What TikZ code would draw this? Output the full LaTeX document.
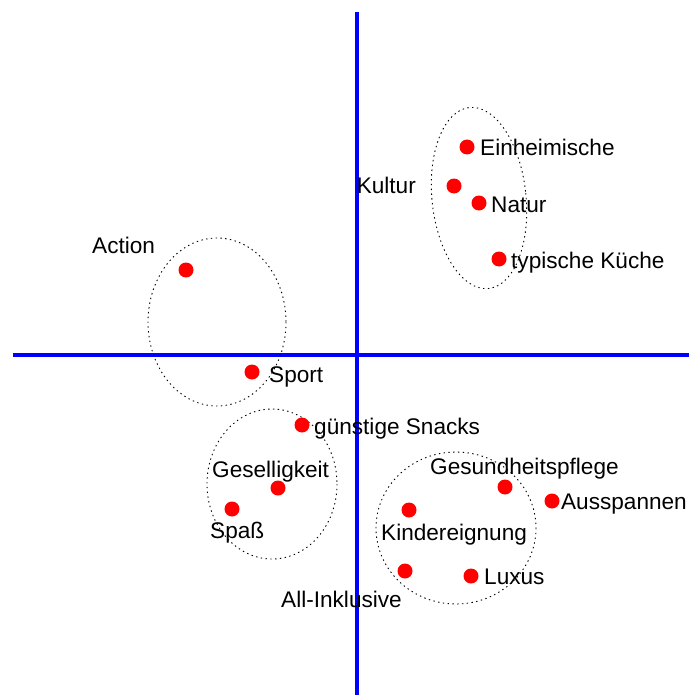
\documentclass[tikz,border=0pt]{standalone}
\usepackage{fontspec}
\setmainfont{Liberation Sans}
\usetikzlibrary{positioning}
\definecolor{axisblue}{RGB}{0,0,255}
\definecolor{dotred}{RGB}{255,0,0}

\begin{document}
\begin{tikzpicture}[
    x=1pt, y=-1pt,
    % node styles
    pt/.style = {
      circle,
      fill=dotred,
      draw=none,
      minimum size=15pt,
      inner sep=0pt
    },
    lbl/.style = {
      anchor=base west,
      inner sep=0pt,
      font=\fontsize{22.6}{27}\selectfont
    },
    % line styles
    axis/.style = {line width=4pt, draw=axisblue},
    group/.style = {line width=0.9pt, draw=black, dash pattern=on 1.4pt off 3.4pt}
  ]
  \useasboundingbox (0,0) rectangle (689,695);

  % --- Axes
  \coordinate (ytop) at (357,12);
  \coordinate (ybot) at (357,695);
  \coordinate (xleft) at (13,355);
  \coordinate (xright) at (689,355);
  \draw[axis] (ytop) -- (ybot);
  \draw[axis] (xleft) -- (xright);

  % --- Groups
  \draw[group, rotate around={6:(479,198)}] (479,198) ellipse (47 and 91);
  \draw[group] (217,322) ellipse (69 and 84);
  \draw[group] (272,484) ellipse (65 and 75);
  \draw[group] (456,528) ellipse (80 and 76);

  % --- Points
  \node[pt] (einh) at (467,147) {};
  \node[pt] (kult) at (454,186) {};
  \node[pt] (natur) at (479,203) {};
  \node[pt] (kueche) at (499,259) {};
  \node[pt] (action) at (186,270) {};
  \node[pt] (sport) at (252,372) {};
  \node[pt] (snacks) at (302,425) {};
  \node[pt] (gesell) at (278,488) {};
  \node[pt] (spass) at (232,509) {};
  \node[pt] (gesund) at (505,487) {};
  \node[pt] (ausspann) at (552,501) {};
  \node[pt] (kinder) at (409,510) {};
  \node[pt] (allinkl) at (405,571) {};
  \node[pt] (luxus) at (471,576) {};

  % --- Labels
  \node[lbl] (einhL) at (480,156) {Einheimische};
  \node[lbl, anchor=base east] (kultL) at (416,193) {Kultur};
  \node[lbl] (naturL) at (491,212) {Natur};
  \node[lbl] (kuecheL) at (511,268) {typische Küche};
  \node[lbl] (actionL) at (92,253) {Action};
  \node[lbl] (sportL) at (269,382) {Sport};
  \node[lbl] (snacksL) at (314,434) {günstige Snacks};
  \node[lbl] (gesellL) at (212,477) {Geselligkeit};
  \node[lbl] (spassL) at (210,538) {Spaß};
  \node[lbl] (gesundL) at (430,474) {Gesundheitspflege};
  \node[lbl, anchor=base east] (ausspannL) at (687,509) {Ausspannen};
  \node[lbl] (kinderL) at (381,540) {Kindereignung};
  \node[lbl] (allinklL) at (281,607) {All-Inklusive};
  \node[lbl] (luxusL) at (484,584) {Luxus};

\end{tikzpicture}
\end{document}
